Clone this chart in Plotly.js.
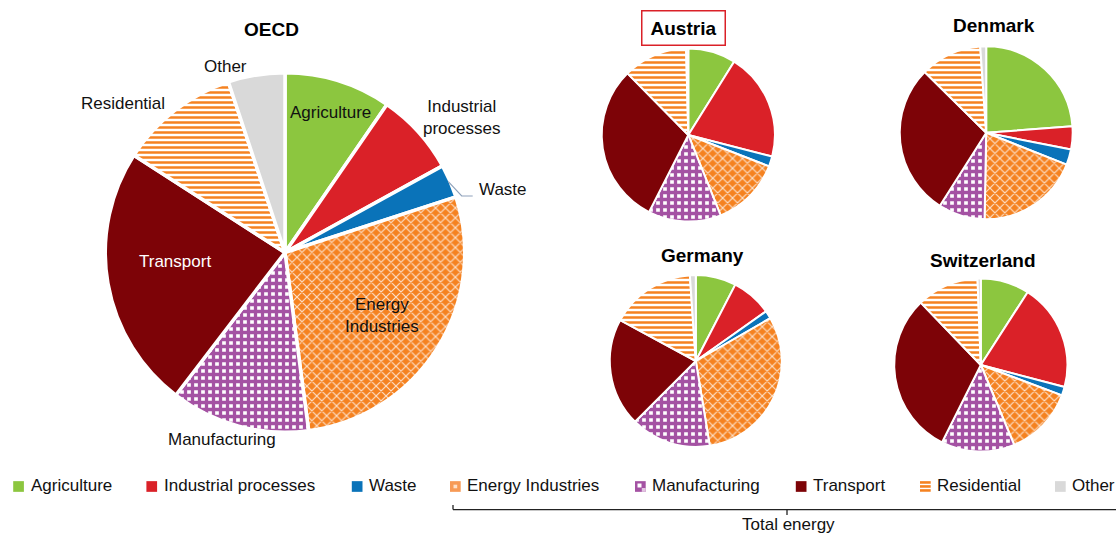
<!DOCTYPE html>
<html><head><meta charset="utf-8">
<script src="https://cdn.plot.ly/plotly-3.0.1.min.js"></script>
<style>html,body{margin:0;padding:0;background:#fff}#chart{width:1116px;height:534px}</style>
</head><body><div id="chart"></div>
<script>
// ---------- data ----------
const categories = ["Agriculture","Industrial processes","Waste","Energy Industries","Manufacturing","Transport","Residential","Other"];
const regions = ["OECD","Austria","Denmark","Germany","Switzerland"];
const oecd        = [9.6, 7.4, 3.0, 27.9, 12.5, 23.7, 10.8, 5.1];
const austria     = [8.9, 20.1, 1.9, 13.0, 13.6, 30.1, 12.0, 0.4];
const denmark     = [23.8, 4.3, 2.9, 19.3, 8.7, 28.4, 11.5, 1.1];
const germany     = [7.6, 7.6, 1.5, 30.7, 15.1, 20.4, 16.0, 1.1];
const switzerland = [9.1, 20.0, 1.6, 13.0, 13.7, 30.4, 11.6, 0.6];
const bracketLabel = "Total energy";

// ---------- styling / layout ----------
const W = 1116, H = 534;
const FONT = "Liberation Sans, Arial, sans-serif";
const px = x => x / W;
const py = y => 1 - y / H;

const ORANGE = '#f58220', PURPLE = '#a452a3';
const colors = ['#8cc63f', '#da2128', '#0a73b9', ORANGE, PURPLE, '#7d0307', ORANGE, '#d9d9d9'];
const pat = {
  shape:    ['', '', '', 'x', '+', '', '-', ''],
  fgcolor:  ['#fff', '#fff', '#fff', '#fde2cc', PURPLE, '#fff', ORANGE, '#fff'],
  bgcolor:  [colors[0], colors[1], colors[2], ORANGE, '#ffffff', colors[5], '#ffffff', colors[7]],
  size:     [8, 8, 8, 7, 7, 8, 5, 8],
  solidity: [0.3, 0.3, 0.3, 0.3, 0.72, 0.3, 0.5, 0.3],
  fgopacity: 1,
  fillmode: 'overlay'
};

const seriesList = [oecd, austria, denmark, germany, switzerland];
// pie centres & radii (pixels)
const pieGeom = [
  {cx: 285,   cy: 252.5, r: 178,  lw: 3.5},
  {cx: 688.3, cy: 135,   r: 85.6, lw: 2},
  {cx: 986.2, cy: 132.8, r: 85.5, lw: 2},
  {cx: 695.8, cy: 361,   r: 85,   lw: 2},
  {cx: 980.8, cy: 365,   r: 85.6, lw: 2}
];

const traces = seriesList.map((vals, i) => {
  const g = pieGeom[i];
  const rr = g.r + g.lw / 2;
  return {
    type: 'pie', name: regions[i], labels: categories, values: vals,
    sort: false, direction: 'clockwise', rotation: 0,
    textinfo: 'none', hoverinfo: 'label+percent', showlegend: false,
    domain: {x: [px(g.cx - rr), px(g.cx + rr)], y: [py(g.cy + rr), py(g.cy - rr)]},
    marker: {colors: colors, line: {color: '#ffffff', width: g.lw}, pattern: pat}
  };
});

const annotations = [];
const shapes = [];

// titles
const titlePos = [[271.5, 29.5], [683.5, 28], [994, 25.5], [702, 255.5], [983, 260]];
regions.forEach((r, i) => {
  const a = {
    text: '<b>' + r + '</b>', x: px(titlePos[i][0]), y: py(titlePos[i][1]),
    xref: 'paper', yref: 'paper', showarrow: false, xanchor: 'center', yanchor: 'middle',
    font: {family: FONT, size: 19, color: '#000'}
  };
  if (r === 'Austria') {
    a.bordercolor = '#da2128'; a.borderwidth = 1.5; a.borderpad = 1;
    a.width = 80; a.height = 31; a.bgcolor = '#ffffff';
  }
  annotations.push(a);
});

// OECD slice labels
const labelText = categories.map(c => (c === 'Industrial processes' || c === 'Energy Industries') ? c.replace(' ', '<br>') : c);
const labelPos = [[330.8, 113], [461, 117.5], [477.3, 189], [382.5, 315], [221.7, 439], [175, 261], [123.3, 103.5], [225.3, 67]];
const labelColor = ['#111', '#111', '#111', '#111', '#111', '#ffffff', '#111', '#111'];
categories.forEach((c, i) => {
  annotations.push({
    text: labelText[i], x: px(labelPos[i][0]), y: py(labelPos[i][1]),
    xref: 'paper', yref: 'paper', showarrow: false,
    xanchor: i === 2 ? 'left' : 'center', yanchor: 'middle',
    font: {family: FONT, size: 17, color: labelColor[i]}
  });
});
// Waste leader line
shapes.push({type: 'path', xref: 'paper', yref: 'paper',
  path: `M ${px(448.3)} ${py(181.7)} L ${px(461.7)} ${py(196)} L ${px(472.7)} ${py(196)}`,
  line: {color: '#8fa2bb', width: 1.2}});

// legend (manual)
const legendX = [13.2, 146.4, 351.8, 450, 635, 795.8, 920, 1055];
const LY = 486.5, S = 10.7;
categories.forEach((c, i) => {
  const x0 = legendX[i];
  const rect = (a, b, cc, d, col) => shapes.push({type: 'rect', xref: 'paper', yref: 'paper',
    x0: px(a), x1: px(b), y0: py(d), y1: py(cc), fillcolor: col, line: {width: 0}});
  if (i === 6) {
    [0, 1, 2].forEach(k => rect(x0, x0 + S, LY - S / 2 + k * 4, LY - S / 2 + k * 4 + 2.6, ORANGE));
  } else if (i === 4) {
    rect(x0, x0 + S, LY - S / 2, LY + S / 2, PURPLE);
    rect(x0 + 2.5, x0 + 6.5, LY - 3, LY + 1, '#ffffff');
    rect(x0 + 6.8, x0 + S, LY + 1.5, LY + S / 2, '#e3c6e2');
  } else if (i === 3) {
    rect(x0, x0 + S, LY - S / 2, LY + S / 2, '#f79a55');
    rect(x0 + 3.5, x0 + 7.2, LY - 1.8, LY + 1.8, '#fde0c8');
  } else {
    rect(x0, x0 + S, LY - S / 2, LY + S / 2, colors[i]);
  }
  annotations.push({
    text: c, x: px(x0 + S + 4.7), y: py(LY - 1), xref: 'paper', yref: 'paper',
    showarrow: false, xanchor: 'left', yanchor: 'middle',
    font: {family: FONT, size: 17, color: '#111'}
  });
});

// bracket "Total energy"
const bl = {color: '#222', width: 1.3};
shapes.push({type: 'line', xref: 'paper', yref: 'paper', x0: px(453), x1: px(453), y0: py(505), y1: py(509.6), line: bl});
shapes.push({type: 'line', xref: 'paper', yref: 'paper', x0: px(453), x1: px(1116), y0: py(509.6), y1: py(509.6), line: bl});
shapes.push({type: 'line', xref: 'paper', yref: 'paper', x0: px(787), x1: px(787), y0: py(509.6), y1: py(515), line: bl});
annotations.push({text: bracketLabel, x: px(788.7), y: py(524.5), xref: 'paper', yref: 'paper',
  showarrow: false, xanchor: 'center', yanchor: 'middle', font: {family: FONT, size: 17, color: '#111'}});

const layout = {
  width: W, height: H, margin: {l: 0, r: 0, t: 0, b: 0},
  paper_bgcolor: '#ffffff', plot_bgcolor: '#ffffff',
  showlegend: false, annotations: annotations, shapes: shapes,
  font: {family: FONT}
};
Plotly.newPlot('chart', traces, layout, {displayModeBar: false, staticPlot: true});
</script></body></html>
